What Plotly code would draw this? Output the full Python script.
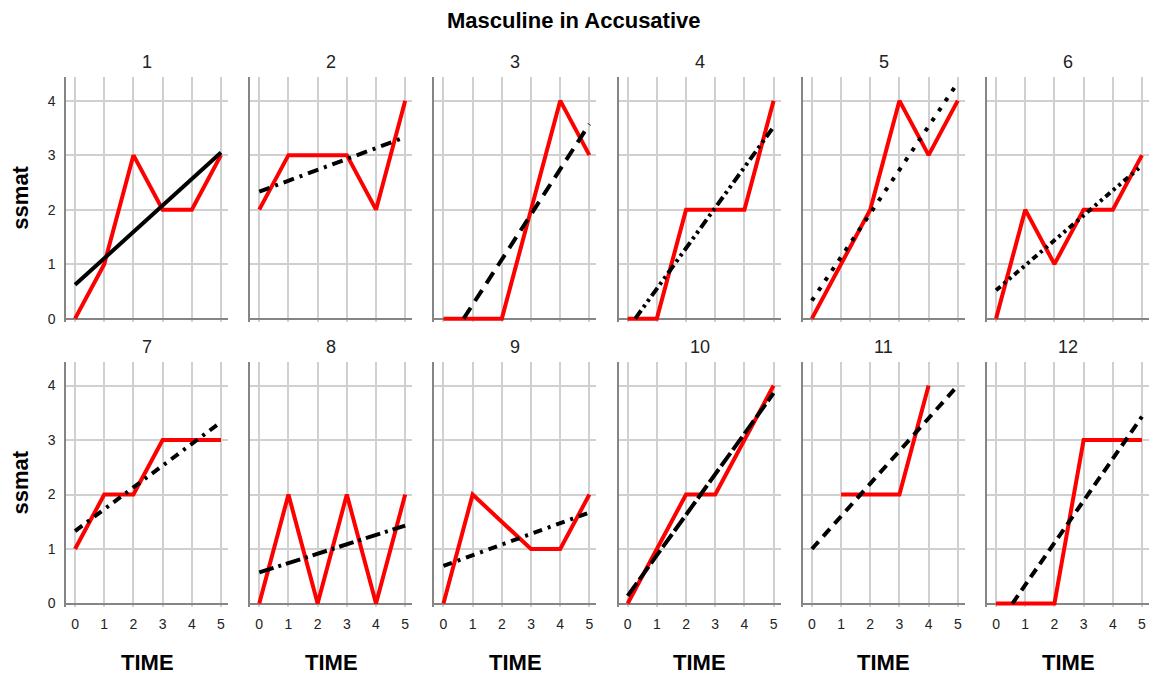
import plotly.graph_objects as go

# ---- data -------------------------------------------------------------
TIME = [0, 1, 2, 3, 4, 5]
PANEL_TITLES = ["1", "2", "3", "4", "5", "6", "7", "8", "9", "10", "11", "12"]

ssmat_1 = [0, 1, 3, 2, 2, 3]
ssmat_2 = [2, 3, 3, 3, 2, 4]
ssmat_3 = [0, 0, 0, 2, 4, 3]
ssmat_4 = [0, 0, 2, 2, 2, 4]
ssmat_5 = [0, 1, 2, 4, 3, 4]
ssmat_6 = [0, 2, 1, 2, 2, 3]
ssmat_7 = [1, 2, 2, 3, 3, 3]
ssmat_8 = [0, 2, 0, 2, 0, 2]
ssmat_9 = [0, 2, None, 1, 1, 2]
ssmat_10 = [0, 1, 2, 2, 3, 4]
ssmat_11 = [None, 2, 2, 2, 4, None]
ssmat_12 = [0, 0, 0, 3, 3, 3]
SSMAT = [ssmat_1, ssmat_2, ssmat_3, ssmat_4, ssmat_5, ssmat_6,
         ssmat_7, ssmat_8, ssmat_9, ssmat_10, ssmat_11, ssmat_12]

# fitted linear trend per panel: start point and end point
fit_x0 = [0, 0, 0.69, 0.26, 0, 0, 0, 0, 0, 0, 0, 0.56]
fit_y0 = [0.62, 2.33, 0, 0, 0.33, 0.52, 1.33, 0.57, 0.69, 0.14, 1.0, 0]
fit_x1 = [5, 5, 5, 5, 5, 5, 5, 5, 5, 5, 5, 5]
fit_y1 = [3.05, 3.33, 3.57, 3.52, 4.33, 2.81, 3.33, 1.43, 1.67, 3.86, 4.0, 3.43]

# line pattern of each trend line
FIT_DASH = ["solid", "11px,6px,3px,6px", "13px,8px", "10px,4px,3px,4px,3px,4px",
            "4px,8px", "6px,4px,3px,4px,3px,4px", "9px,6px,3px,6px", "15px,5px,3px,5px",
            "9px,6px,3px,6px", "16px,4px", "10px,7px", "10px,6px"]

# ---- layout geometry ---------------------------------------------------
W, H = 1157, 679
COL_LEFT = 66
COL_STEP = 184.2
COL_W = 162
ROW_ZERO = [321, 608]     # pixel row of y = 0
UNIT_Y = 54.9             # pixels per y unit
X_RANGE = [-0.31, 5.24]
Y_RANGE = [-0.06, 4.44]

GRID = "#d0d0d0"
AXIS = "#858585"
FONT = "Liberation Sans, Arial, sans-serif"

fig = go.Figure()
layout = dict(
    width=W, height=H,
    margin=dict(l=0, r=0, t=0, b=0),
    paper_bgcolor="white", plot_bgcolor="white",
    showlegend=False,
    font=dict(family=FONT, color="#222222"),
)
annotations = []

for k in range(12):
    row, col = divmod(k, 6)
    n = k + 1
    xa = "xaxis" if n == 1 else f"xaxis{n}"
    ya = "yaxis" if n == 1 else f"yaxis{n}"
    xref = "x" if n == 1 else f"x{n}"
    yref = "y" if n == 1 else f"y{n}"

    left = COL_LEFT + COL_STEP * col
    right = left + COL_W
    bottom_px = ROW_ZERO[row] - Y_RANGE[0] * UNIT_Y
    top_px = ROW_ZERO[row] - Y_RANGE[1] * UNIT_Y

    layout[xa] = dict(
        domain=[left / W, right / W], range=X_RANGE, anchor=yref,
        tickvals=TIME, ticktext=[str(t) for t in TIME],
        showticklabels=(row == 1), ticks="", ticklabelstandoff=7,
        tickfont=dict(size=14, color="#222222"),
        showgrid=True, gridcolor=GRID, gridwidth=2,
        zeroline=False, showline=False, fixedrange=True,
    )
    layout[ya] = dict(
        domain=[1 - bottom_px / H, 1 - top_px / H], range=Y_RANGE, anchor=xref,
        tickvals=[0, 1, 2, 3, 4],
        showticklabels=(col == 0), ticks="", ticklabelstandoff=6,
        tickfont=dict(size=14, color="#222222"),
        showgrid=True, gridcolor=GRID, gridwidth=2,
        zeroline=True, zerolinecolor=AXIS, zerolinewidth=2,
        showline=True, linecolor=AXIS, linewidth=1.5, fixedrange=True,
    )

    # observed scores
    fig.add_trace(go.Scatter(
        x=TIME, y=SSMAT[k], mode="lines", connectgaps=True,
        line=dict(color="#ff0000", width=4),
        xaxis=xref, yaxis=yref, hoverinfo="x+y",
    ))
    # linear trend
    fig.add_trace(go.Scatter(
        x=[fit_x0[k], fit_x1[k]], y=[fit_y0[k], fit_y1[k]], mode="lines",
        line=dict(color="#000000", width=4, dash=FIT_DASH[k]),
        xaxis=xref, yaxis=yref, hoverinfo="skip",
    ))

    cx = (left + right) / 2 / W
    # panel title
    annotations.append(dict(
        text=PANEL_TITLES[k], xref="paper", yref="paper",
        x=cx, y=1 - (top_px - 15) / H, xanchor="center", yanchor="middle",
        showarrow=False, font=dict(size=18, color="#222222", family=FONT),
    ))
    if row == 1:
        annotations.append(dict(
            text="<b>TIME</b>", xref="paper", yref="paper",
            x=cx, y=1 - 667 / H, xanchor="center", yanchor="middle",
            showarrow=False, font=dict(size=22, color="#000000", family=FONT),
        ))
    if col == 0:
        annotations.append(dict(
            text="<b>ssmat</b>", xref="paper", yref="paper", textangle=-90,
            x=21 / W, y=1 - (ROW_ZERO[row] - 2.22 * UNIT_Y) / H,
            xanchor="center", yanchor="middle",
            showarrow=False, font=dict(size=22, color="#000000", family=FONT),
        ))

annotations.append(dict(
    text="<b>Masculine in Accusative</b>", xref="paper", yref="paper",
    x=574 / W, y=1 - 21 / H, xanchor="center", yanchor="middle",
    showarrow=False, font=dict(size=22, color="#000000", family=FONT),
))
layout["annotations"] = annotations
fig.update_layout(**layout)

fig.write_html("out.html")
